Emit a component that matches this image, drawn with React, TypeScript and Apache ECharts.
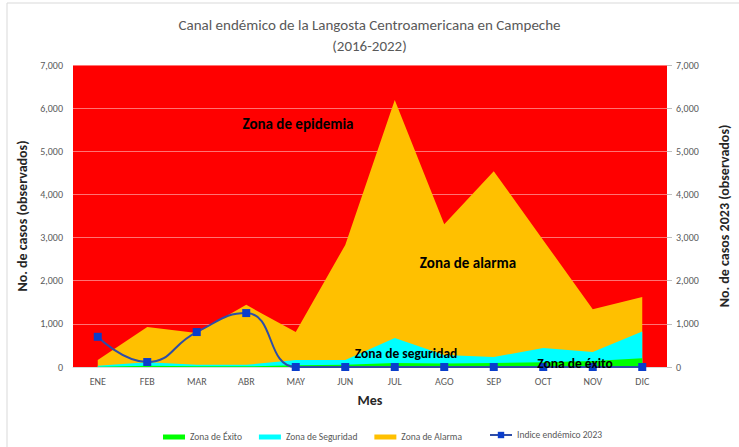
import React, { useEffect, useRef } from 'react';
import * as echarts from 'echarts';

const months = ['ENE', 'FEB', 'MAR', 'ABR', 'MAY', 'JUN', 'JUL', 'AGO', 'SEP', 'OCT', 'NOV', 'DIC'];
const zonaExito = [5, 30, 15, 15, 40, 50, 90, 80, 90, 110, 140, 200];
const zonaSeguridad = [30, 110, 50, 50, 160, 160, 670, 280, 230, 440, 350, 820];
const zonaAlarma = [160, 930, 790, 1440, 810, 2830, 6190, 3310, 4540, 2940, 1340, 1620];
const indice2023 = [700, 115, 810, 1250, 0, 0, 0, 0, 0, 0, 0, 0];
const yMax = 7000;
const yInterval = 1000;

const FONT = 'Carlito, Lato, "Open Sans", sans-serif';

export default function App() {
  const ref = useRef<HTMLDivElement>(null);
  useEffect(() => {
    if (!ref.current) return;
    const chart = echarts.init(ref.current, undefined, { renderer: 'svg' });
    const axisLabel = { color: '#595959', fontSize: 10, fontFamily: FONT };
    const nameStyle = { color: '#262626', fontSize: 14, fontWeight: 'bold' as const, fontFamily: FONT };
    chart.setOption({
      animation: false,
      textStyle: { fontFamily: FONT },
      title: {
        text: 'Canal endémico de la Langosta Centroamericana en Campeche\n(2016-2022)',
        left: 'center',
        top: 9,
        textStyle: { color: '#595959', fontSize: 15, fontWeight: 'normal', fontFamily: FONT, lineHeight: 21 },
      },
      grid: {
        left: 73, right: 62, top: 65, bottom: 80,
        show: true, backgroundColor: '#FF0000', borderWidth: 0,
      },
      legend: [
        {
          data: ['Zona de Éxito', 'Zona de Seguridad', 'Zona de Alarma'],
          left: 158, top: 427, icon: 'rect', itemWidth: 22, itemHeight: 5, itemGap: 17,
          textStyle: { color: '#595959', fontSize: 9.5, fontFamily: FONT },
        },
        {
          data: ['Indice endémico 2023'],
          left: 484, top: 425, itemWidth: 22, itemHeight: 8,
          textStyle: { color: '#595959', fontSize: 9.5, fontFamily: FONT },
        },
      ],
      xAxis: {
        type: 'category', data: months, boundaryGap: true,
        name: 'Mes', nameLocation: 'middle', nameGap: 26, nameTextStyle: nameStyle,
        axisLine: { lineStyle: { color: '#d9d9d9' } },
        axisTick: { show: false },
        axisLabel: { ...axisLabel, margin: 9 },
      },
      yAxis: [
        {
          type: 'value', min: 0, max: yMax, interval: yInterval,
          name: 'No. de casos (observados)', nameLocation: 'middle', nameGap: 43, nameRotate: 90,
          nameTextStyle: nameStyle,
          axisLine: { show: false }, axisTick: { show: false },
          axisLabel: { ...axisLabel, margin: 10, formatter: (v: number) => v.toLocaleString('en-US') },
          splitLine: { lineStyle: { color: 'rgba(255,255,255,0.45)', width: 1 } },
        },
        {
          type: 'value', min: 0, max: yMax, interval: yInterval, position: 'right',
          name: 'No. de casos 2023 (observados)', nameLocation: 'middle', nameGap: 50, nameRotate: 90,
          nameTextStyle: nameStyle,
          axisLine: { show: false },
          axisTick: { show: true, length: 5, lineStyle: { color: '#bfbfbf' } },
          axisLabel: { ...axisLabel, margin: 9, formatter: (v: number) => v.toLocaleString('en-US') },
          splitLine: { show: false },
        },
      ],
      series: [
        {
          name: 'Zona de Alarma', type: 'line', data: zonaAlarma, symbol: 'none',
          lineStyle: { width: 0 }, itemStyle: { color: '#FFC000' },
          areaStyle: { color: '#FFC000', opacity: 1 }, z: 2,
        },
        {
          name: 'Zona de Seguridad', type: 'line', data: zonaSeguridad, symbol: 'none',
          lineStyle: { width: 0 }, itemStyle: { color: '#00FFFF' },
          areaStyle: { color: '#00FFFF', opacity: 1 }, z: 3,
        },
        {
          name: 'Zona de Éxito', type: 'line', data: zonaExito, symbol: 'none',
          lineStyle: { width: 0 }, itemStyle: { color: '#00FF00' },
          areaStyle: { color: '#00FF00', opacity: 1 }, z: 4,
        },
        {
          name: 'Indice endémico 2023', type: 'line', yAxisIndex: 1, data: indice2023,
          smooth: 0.5, symbol: 'rect', symbolSize: 8,
          lineStyle: { color: '#2E4DA7', width: 2 },
          itemStyle: { color: '#0A3DCB' }, z: 6,
        },
      ],
      graphic: [
        {
          type: 'rect', shape: { x: 7, y: 3, width: 800, height: 500 }, silent: true,
          style: { fill: 'none', stroke: '#d9d9d9', lineWidth: 1 }, z: -10,
        },
        {
          type: 'text', x: 298, y: 124, z: 100,
          style: { text: 'Zona de epidemia', fill: '#000', font: `bold 15px ${FONT}`, align: 'center', verticalAlign: 'middle' },
        },
        {
          type: 'text', x: 468, y: 263, z: 100,
          style: { text: 'Zona de alarma', fill: '#000', font: `bold 15px ${FONT}`, align: 'center', verticalAlign: 'middle' },
        },
        {
          type: 'text', x: 406, y: 353, z: 100,
          style: { text: 'Zona de seguridad', fill: '#000', font: `bold 13.5px ${FONT}`, align: 'center', verticalAlign: 'middle' },
        },
        {
          type: 'text', x: 575, y: 363, z: 100,
          style: { text: 'Zona de éxito', fill: '#000', font: `bold 13.5px ${FONT}`, align: 'center', verticalAlign: 'middle' },
        },
      ],
    });
    return () => chart.dispose();
  }, []);
  return <div ref={ref} style={{ position: 'fixed', left: 0, top: 0, width: 739, height: 447, background: '#fff' }} />;
}
